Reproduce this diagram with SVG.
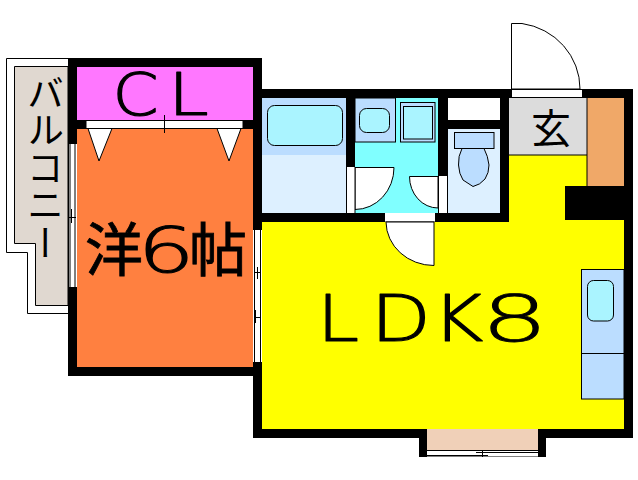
<svg xmlns="http://www.w3.org/2000/svg" width="638" height="480" viewBox="0 0 638 480">
<style>
.w{fill:#000}
.l{fill:none;stroke:#000;stroke-width:1}
.d{fill:#fff;stroke:#000;stroke-width:1}
.c{font-family:"Noto Sans CJK JP","Noto Sans",sans-serif;fill:#000}
.a{font-family:"DejaVu Sans ExtraLight","DejaVu Sans",sans-serif;font-weight:200;fill:#000;stroke:#000;stroke-width:1.200;stroke-linejoin:round;stroke-linecap:round}
</style>
<rect width="638" height="480" fill="#fff"/>
<g id="balcony">
<path class="d" d="M68 58.500H6.500V252.500H27.500V313.500H68"/>
<path d="M68 66.500H14.500V243.500H35.500V305.500H68Z" fill="#e0d8d0" stroke="#000"/>
<text class="c" x="45.500" y="74" font-size="37" style="writing-mode:vertical-rl" letter-spacing="0.500">バルコニー</text>
</g>
<g id="rooms">
<rect id="cl" x="77" y="67" width="176" height="53" fill="#ff77ff"/>
<rect id="bedroom" x="77" y="129" width="176" height="238" fill="#ff8040"/>
<rect id="ldk" x="262" y="155" width="362" height="274" fill="#ffff00"/>
<rect id="bath" x="262" y="98" width="84" height="57" fill="#bbddff"/>
<rect id="bath-floor" x="262" y="155" width="84" height="58" fill="#ddf0ff"/>
<rect id="wash" x="355" y="98" width="83" height="115" fill="#80ffff"/>
<rect id="wc" x="448" y="129" width="52" height="84" fill="#ddf0ff"/>
<rect id="entry" x="509" y="98" width="78" height="57" fill="#dcdcdc"/>
<rect id="closet" x="587" y="98" width="37" height="88" fill="#f0a868"/>
<path class="l" d="M509 155H587M587 98V186"/>
</g>
<g id="walls">
<rect class="w" x="68" y="58" width="194" height="9"/>
<rect class="w" x="68" y="58" width="9" height="86"/>
<rect class="w" x="68" y="287" width="9" height="89"/>
<rect class="w" x="68" y="367" width="194" height="9"/>
<rect class="w" x="253" y="58" width="9" height="172"/>
<rect class="w" x="253" y="362" width="9" height="76"/>
<rect class="w" x="77" y="120" width="176" height="9"/>
<rect class="w" x="262" y="89" width="249" height="9"/>
<rect class="w" x="583" y="89" width="50" height="9"/>
<rect class="w" x="624" y="89" width="9" height="349"/>
<rect class="w" x="253" y="429" width="380" height="9"/>
<rect class="w" x="262" y="213" width="247" height="9"/>
<rect class="w" x="346" y="98" width="9" height="69"/>
<rect class="w" x="438" y="98" width="10" height="78"/>
<rect class="w" x="448" y="120" width="52" height="9"/>
<rect class="w" x="500" y="98" width="9" height="124"/>
<rect class="w" x="565" y="186" width="59" height="34"/>
<rect class="w" x="419" y="429" width="127" height="28"/>
</g>
<g id="fixtures">
<rect x="448" y="98" width="52" height="22" fill="#fff"/>
<rect x="267.500" y="105.500" width="75" height="40" rx="7" fill="#aaf4ff" stroke="#000"/>
<rect x="355" y="98" width="40.500" height="44" fill="#bbddff" stroke="#000"/>
<rect x="359.500" y="108.500" width="30" height="24" rx="7" fill="#aaf4ff" stroke="#000"/>
<rect x="400.500" y="102.500" width="34.500" height="39.500" fill="#bbddff" stroke="#000"/>
<rect x="403.500" y="106.500" width="29" height="32.500" fill="#aaf4ff" stroke="#000"/>
<rect x="454.500" y="132.500" width="39.500" height="16" fill="#bbddff" stroke="#000"/>
<path d="M462 148.500Q458 156 458.500 165Q459 174 463 180L473 186.500Q480 185 485 179Q489 173 489 165Q488 156 484 148.500Z" fill="#bbddff" stroke="#000"/>
<rect x="581.500" y="269.500" width="42.500" height="129.500" fill="#bbddff" stroke="#000"/>
<path class="l" d="M581.500 353.500H624"/>
<rect x="587.500" y="280.500" width="26" height="40.500" rx="6" fill="#aaf4ff" stroke="#000"/>
<rect x="427" y="429" width="111" height="21" fill="#f0d0b8"/>
</g>
<g id="doors">
<path class="d" d="M355 167.500H394A39 42 0 0 1 355 209.500Z"/>
<path class="d" d="M438 176.500H409.500A28.500 31.500 0 0 0 438 208Z"/>
<rect x="346" y="167" width="9" height="46" fill="#fff"/>
<path class="l" d="M346.500 167V213M355 167V213"/>
<rect x="438" y="176" width="10" height="37" fill="#fff"/>
<path class="l" d="M438.500 176V213M447.500 176V213"/>
<rect x="385" y="213" width="50" height="8.500" fill="#fff"/>
<path class="d" d="M386 222A48 44 0 0 0 434 265.500V222Z"/>
<path class="d" d="M511.500 89V23.500H522A68 66 0 0 1 580 89Z"/>
<rect x="511.500" y="89.500" width="71" height="8" class="d"/>
<rect x="86" y="120.500" width="157" height="8" class="d"/>
<path class="d" d="M88 128.500H112L99 161ZM217 128.500H241L229 161Z"/>
<path class="l" d="M164.500 115V133"/>
</g>
<g id="windows">
<rect x="68" y="144" width="9" height="143" fill="#fff"/>
<path class="l" d="M68.500 144V287M70 144V287M75 144V287M69 217.500H76M71.500 209V223"/>
<rect x="253" y="230" width="9" height="132" fill="#fff"/>
<path class="l" d="M254.500 230V362M260.500 230V362M254 272.500H261M257.500 267V279M254 317.500H261M255.500 310V323"/>
<rect x="427" y="450" width="111" height="6.500" fill="#fff"/>
<path class="l" d="M427 450.500H538M476 452.500H538M427 455.500H488M482.500 450V457"/>
</g>
<g id="labels">
<text class="a" transform="translate(112.500 114.500) scale(1.14 1)" font-size="58">C</text>
<text class="a" transform="translate(168 114.500) scale(1.26 1)" font-size="58">L</text>
<text class="c" x="85" y="271" font-size="58" stroke="#000" stroke-width=".8">洋</text>
<text class="a" transform="translate(137.500 271.500) scale(1.45 1)" font-size="62" style="stroke-width:1">6</text>
<text class="c" x="189" y="271" font-size="58" stroke="#000" stroke-width=".8">帖</text>
<text class="a" transform="translate(317 341) scale(1.18 1)" font-size="64">L</text>
<text class="a" transform="translate(370.700 341) scale(1.22 1)" font-size="64">D</text>
<text class="a" transform="translate(432 341) scale(1.22 1)" font-size="64">K</text>
<text class="a" transform="translate(481 341) scale(1.65 1)" font-size="64" style="stroke-width:.8">8</text>
<text class="c" x="531" y="143" font-size="40">玄</text>
</g>
</svg>
